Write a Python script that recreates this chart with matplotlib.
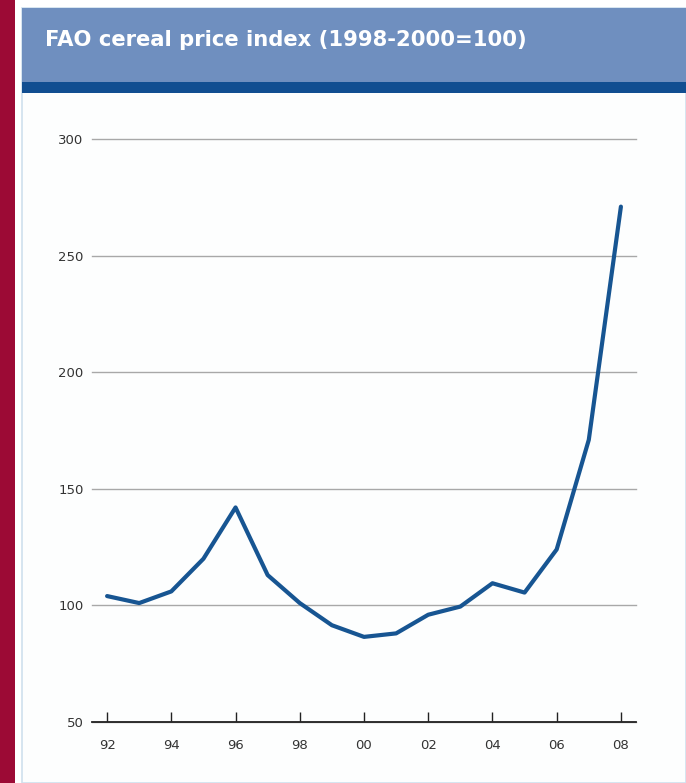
import numpy as np
import matplotlib
matplotlib.use('Agg')
import matplotlib.pyplot as plt
from matplotlib.patches import Rectangle

# FAO cereal price index, yearly values
years = [1992, 1993, 1994, 1995, 1996, 1997, 1998, 1999, 2000,
         2001, 2002, 2003, 2004, 2005, 2006, 2007, 2008]
index = [104, 101, 106, 120, 142, 113, 101, 91.5, 86.5,
         88, 96, 99.5, 109.5, 105.5, 124, 171, 271]

tick_years = [1992, 1994, 1996, 1998, 2000, 2002, 2004, 2006, 2008]
tick_labels = ['92', '94', '96', '98', '00', '02', '04', '06', '08']
y_ticks = [50, 100, 150, 200, 250, 300]

title = 'FAO cereal price index (1998-2000=100)'

W, H = 686, 783
fig = plt.figure(figsize=(W / 100, H / 100), dpi=100)
fig.patch.set_facecolor('white')

# frame: crimson strip on the left, blue header with dark stripe
fig.patches.append(Rectangle((0, 0), 15 / W, 1, transform=fig.transFigure,
                             facecolor='#9c0a35', edgecolor='none', zorder=-3))
fig.patches.append(Rectangle((22 / W, 0), 1 - 22 / W, 1 - 8 / H, transform=fig.transFigure,
                             facecolor='#fdfefe', edgecolor='#cfe0ee', lw=1.2, zorder=-3))
fig.patches.append(Rectangle((22 / W, 1 - 82 / H), 1 - 22 / W, 74 / H, transform=fig.transFigure,
                             facecolor='#6f8fbf', edgecolor='none', zorder=-2))
fig.patches.append(Rectangle((22 / W, 1 - 93 / H), 1 - 22 / W, 11 / H, transform=fig.transFigure,
                             facecolor='#114e91', edgecolor='none', zorder=-2))
fig.text(45 / W, 1 - 40 / H, title, color='white', fontsize=15.2, fontweight='bold',
         family='DejaVu Sans', va='center', ha='left')

ax = fig.add_axes([92 / W, 1 - 722 / H, (636 - 92) / W, (722 - 139) / H])
ax.set_zorder(2)
ax.set_facecolor('none')
ax.plot(years, index, color='#175592', lw=3, solid_joinstyle='round',
        solid_capstyle='round', zorder=3, clip_on=False)

ax.set_xlim(1991.53, 2008.47)
ax.set_ylim(50, 300)
ax.set_xticks(tick_years)
ax.set_xticklabels(tick_labels)
ax.set_yticks(y_ticks)
ax.yaxis.grid(True, color='#a8a8a8', lw=1)
for line in ax.get_ygridlines():
    line.set_clip_on(False)
ax.set_axisbelow(True)

for s in ['top', 'right', 'left']:
    ax.spines[s].set_visible(False)
ax.spines['bottom'].set_color('#222222')
ax.spines['bottom'].set_linewidth(1.3)
ax.spines['bottom'].set_zorder(4)

ax.tick_params(axis='y', length=0, pad=6, labelsize=9.5, labelcolor='#333333')
ax.tick_params(axis='x', direction='in', length=7, width=1, color='#222222',
               pad=12, labelsize=9.5, labelcolor='#333333')

fig.savefig('out.png', dpi=100)
